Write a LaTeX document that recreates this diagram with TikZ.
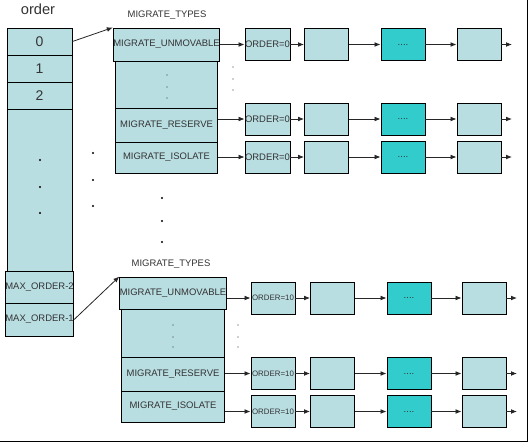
\documentclass[tikz,border=0pt]{standalone}
\usepackage{fontspec}
\setmainfont{Liberation Sans}
\usetikzlibrary{arrows.meta}
\definecolor{cellfill}{HTML}{B9DEE2}
\definecolor{cellteal}{HTML}{33CCCC}
\definecolor{txtgray}{HTML}{333333}

\begin{document}
\begin{tikzpicture}[x=0.75pt, y=-0.75pt,
    every node/.style={font=\fontsize{7.1}{8}\selectfont, text=txtgray},
    cell/.style={draw=black, fill=cellfill, line width=0.7pt, inner sep=0pt},
    ordcell/.style={cell, minimum width=48.75pt},
    mcell/.style={cell, minimum width=77pt},
    lcell/.style={cell, minimum width=33pt, minimum height=24pt},
    tealcell/.style={lcell, fill=cellteal},
    bigtext/.style={font=\fontsize{10.5}{12}\selectfont},
    arr/.style={-{Latex[length=4.5pt,width=3.6pt]}, line width=0.6pt, draw=black!85}]
  \useasboundingbox (0,0) rectangle (529,443);

  % order array
  \node[font=\fontsize{11}{13}\selectfont] (ordlbl) at (38,9) {order};
  \node[ordcell, bigtext, minimum height=20.25pt] (c0) at (39.5,41.5) {0};
  \node[ordcell, bigtext, minimum height=20.25pt] (c1) at (39.5,68.5) {1};
  \node[ordcell, bigtext, minimum height=20.25pt] (c2) at (39.5,95.5) {2};
  \node[ordcell, minimum height=121.5pt] (cdots) at (39.5,190) {};
  \node[ordcell, minimum height=24pt] (cmax2) at (39.5,287) {MAX\_ORDER-2};
  \node[ordcell, minimum height=24.75pt] (cmax1) at (39.5,319.5) {MAX\_ORDER-1};
  \foreach \y in {160,187,213} \fill (40,\y) circle (0.9pt);
  \foreach \y in {153,180,206} \fill (93,\y) circle (0.9pt);
  \foreach \y in {198,221,242} \fill (162,\y) circle (0.9pt);

  % migrate types, order 0
  \node (mtlbl) at (167,15) {MIGRATE\_TYPES};
  \node[mcell, minimum height=24.75pt] (mtu) at (166.5,44.5) {MIGRATE\_UNMOVABLE};
  \node[mcell, minimum height=35.25pt] (mtd) at (166.5,84.5) {};
  \node[mcell, minimum height=25.5pt] (mtr) at (166.5,125) {MIGRATE\_RESERVE};
  \node[mcell, minimum height=23.25pt] (mti) at (166.5,157.5) {MIGRATE\_ISOLATE};
  \foreach \y in {75,87,98} {
    \fill[txtgray] (167,\y) circle (0.4pt);
    \fill[txtgray] (233,\y-8) circle (0.4pt);
  }

  % migrate types, max order
  \node (mblbl) at (171,264) {MIGRATE\_TYPES};
  \node[mcell, minimum height=24pt] (mbu) at (173,293) {MIGRATE\_UNMOVABLE};
  \node[mcell, minimum height=36pt] (mbd) at (173,333) {};
  \node[mcell, minimum height=25.5pt] (mbr) at (173,374) {MIGRATE\_RESERVE};
  \node[mcell, minimum height=23.25pt] (mbi) at (173,406.5) {MIGRATE\_ISOLATE};
  \foreach \y in {325,337,347} {
    \fill[txtgray] (173,\y) circle (0.4pt);
    \fill[txtgray] (238,\y) circle (0.4pt);
  }

  \draw[arr] (c0.east) -- (mtu.north west);
  \draw[arr] (cmax1.east) -- (mbu.north west);

  % free lists
  \foreach \src/\y/\r in {mtu/44.5/1, mtr/119/2, mti/157/3} {
    \node[lcell] (t\r-a) at (267.5,\y) {ORDER=0};
    \node[lcell] (t\r-b) at (326.5,\y) {};
    \node[tealcell] (t\r-c) at (403,\y) {....};
    \node[lcell] (t\r-d) at (479,\y) {};
    \coordinate (t\r-e) at (512,\y);
    \draw[arr] (\src.east |- t\r-a) -- (t\r-a);
    \draw[arr] (t\r-a) -- (t\r-b);
    \draw[arr] (t\r-b) -- (t\r-c);
    \draw[arr] (t\r-c) -- (t\r-d);
    \draw[arr] (t\r-d) -- (t\r-e);
  }
  \foreach \src/\y/\r in {mbu/298/1, mbr/373.5/2, mbi/411.5/3} {
    \node[lcell, font=\fontsize{5.9}{7}\selectfont] (b\r-a) at (273,\y) {ORDER=10};
    \node[lcell] (b\r-b) at (332.5,\y) {};
    \node[tealcell] (b\r-c) at (409,\y) {....};
    \node[lcell] (b\r-d) at (484,\y) {};
    \coordinate (b\r-e) at (517,\y);
    \draw[arr] (\src.east |- b\r-a) -- (b\r-a);
    \draw[arr] (b\r-a) -- (b\r-b);
    \draw[arr] (b\r-b) -- (b\r-c);
    \draw[arr] (b\r-c) -- (b\r-d);
    \draw[arr] (b\r-d) -- (b\r-e);
  }

  % frame
  \draw[line width=1.4pt] (0,441.5) -- (527.5,441.5) -- (527.5,0);
\end{tikzpicture}
\end{document}
